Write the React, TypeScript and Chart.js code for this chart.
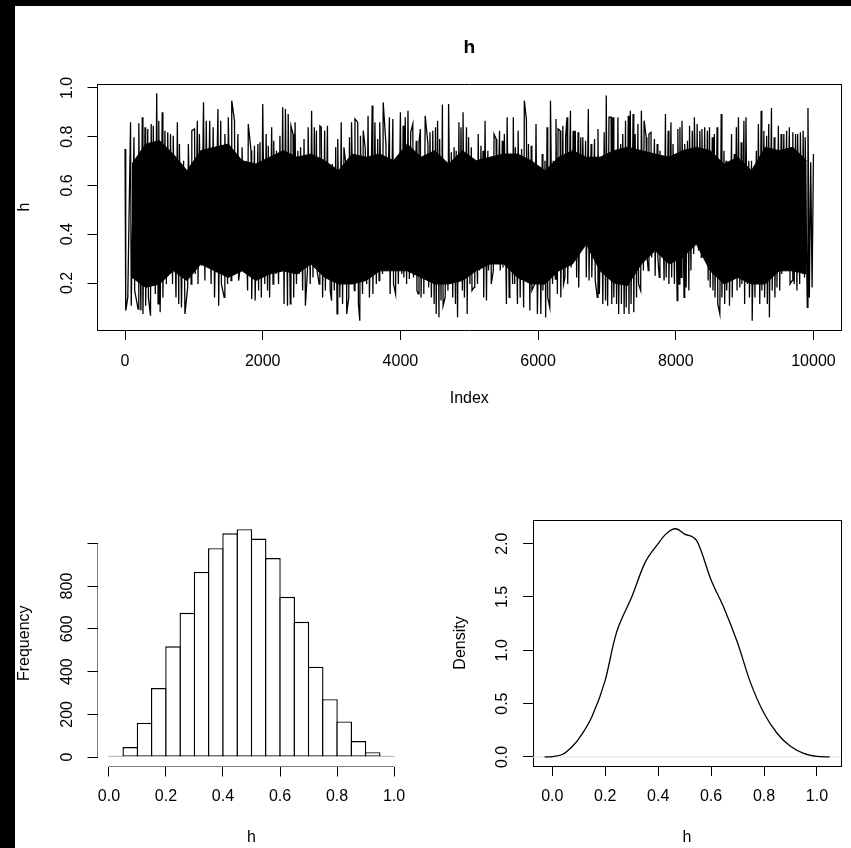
import React, { useEffect, useRef } from 'react';
import { Chart, registerables } from 'chart.js';

Chart.register(...registerables);

const FONT = '"Liberation Sans", Arial, Helvetica, sans-serif';
Chart.defaults.font.family = FONT;
Chart.defaults.font.size = 16;
Chart.defaults.color = '#000';

// ---------- Trace plot (top) ----------
const traceTitle = 'h';
const traceXLabel = 'Index';
const traceYLabel = 'h';
const traceXTicks = [0, 2000, 4000, 6000, 8000, 10000];
const traceYTicks = [0.2, 0.4, 0.6, 0.8, 1.0];
const traceXRange = [-400, 10400];
const traceYRange = [0.0072, 1.0164];
const coreBinSize = 200; // iterations per core block

// local maxima of the trace: [iteration, value]
const tracePeaks = [
  [0, 0.75], [80, 0.859], [130, 0.798], [200, 0.855], [250, 0.88], [290, 0.839], [330, 0.832], [380, 0.852], [410, 0.845], [460, 0.978],
  [490, 0.866], [540, 0.9], [580, 0.825], [620, 0.818], [660, 0.811], [700, 0.804], [760, 0.859], [790, 0.77], [850, 0.702], [920, 0.77],
  [970, 0.825], [1010, 0.832], [1050, 0.866], [1080, 0.811], [1140, 0.941], [1180, 0.866], [1230, 0.866], [1280, 0.839], [1350, 0.914], [1390, 0.866],
  [1450, 0.811], [1500, 0.88], [1550, 0.948], [1590, 0.866], [1640, 0.811], [1700, 0.757], [1740, 0.688], [1790, 0.852], [1830, 0.743], [1880, 0.763],
  [1930, 0.77], [1960, 0.777], [2000, 0.934], [2050, 0.811], [2080, 0.763], [2130, 0.839], [2160, 0.784], [2200, 0.743], [2250, 0.804], [2290, 0.921],
  [2330, 0.914], [2370, 0.893], [2410, 0.845], [2440, 0.811], [2470, 0.859], [2510, 0.743], [2550, 0.757], [2600, 0.791], [2660, 0.839], [2710, 0.907],
  [2750, 0.839], [2780, 0.825], [2830, 0.845], [2850, 0.839], [2900, 0.825], [2940, 0.845], [2970, 0.647], [3010, 0.688], [3060, 0.757], [3090, 0.791],
  [3140, 0.859], [3180, 0.757], [3210, 0.681], [3260, 0.798], [3290, 0.859], [3340, 0.873], [3380, 0.859], [3420, 0.804], [3460, 0.825], [3490, 0.75],
  [3530, 0.886], [3590, 0.928], [3630, 0.859], [3670, 0.791], [3700, 0.859], [3750, 0.941], [3790, 0.77], [3840, 0.88], [3890, 0.873], [3940, 0.702],
  [4000, 0.9], [4040, 0.845], [4070, 0.88], [4110, 0.907], [4150, 0.818], [4180, 0.852], [4230, 0.784], [4270, 0.777], [4290, 0.832], [4330, 0.716],
  [4360, 0.886], [4400, 0.77], [4430, 0.818], [4470, 0.825], [4510, 0.839], [4540, 0.866], [4570, 0.791], [4610, 0.932], [4670, 0.695], [4700, 0.934],
  [4740, 0.736], [4780, 0.757], [4810, 0.743], [4850, 0.859], [4880, 0.839], [4910, 0.9], [4960, 0.839], [4990, 0.798], [5030, 0.757], [5080, 0.647],
  [5130, 0.811], [5170, 0.763], [5200, 0.743], [5230, 0.866], [5270, 0.743], [5310, 0.702], [5360, 0.811], [5390, 0.791], [5440, 0.825], [5480, 0.784],
  [5510, 0.811], [5550, 0.88], [5590, 0.709], [5640, 0.88], [5670, 0.757], [5710, 0.825], [5760, 0.75], [5800, 0.948], [5830, 0.873], [5860, 0.77],
  [5900, 0.763], [5970, 0.852], [6020, 0.661], [6060, 0.729], [6100, 0.702], [6130, 0.839], [6180, 0.948], [6220, 0.702], [6260, 0.873], [6290, 0.832],
  [6320, 0.825], [6360, 0.845], [6400, 0.798], [6420, 0.88], [6470, 0.907], [6510, 0.825], [6540, 0.825], [6580, 0.818], [6620, 0.798], [6650, 0.798],
  [6690, 0.784], [6730, 0.914], [6770, 0.77], [6820, 0.791], [6870, 0.832], [6920, 0.675], [6960, 0.818], [6990, 0.969], [7030, 0.88], [7060, 0.88],
  [7090, 0.88], [7130, 0.64], [7160, 0.88], [7200, 0.77], [7230, 0.811], [7270, 0.866], [7310, 0.886], [7340, 0.907], [7380, 0.893], [7410, 0.811],
  [7450, 0.852], [7500, 0.907], [7540, 0.866], [7570, 0.798], [7610, 0.811], [7640, 0.818], [7690, 0.791], [7730, 0.77], [7770, 0.743], [7800, 0.688],
  [7850, 0.893], [7890, 0.825], [7930, 0.859], [7960, 0.77], [7990, 0.729], [8030, 0.832], [8060, 0.839], [8090, 0.866], [8130, 0.77], [8170, 0.784],
  [8200, 0.845], [8240, 0.825], [8270, 0.88], [8310, 0.852], [8350, 0.825], [8380, 0.832], [8420, 0.839], [8460, 0.825], [8490, 0.839], [8530, 0.798],
  [8560, 0.811], [8600, 0.839], [8660, 0.893], [8700, 0.743], [8730, 0.702], [8770, 0.675], [8810, 0.811], [8850, 0.729], [8880, 0.839], [8910, 0.88],
  [8950, 0.777], [8990, 0.866], [9020, 0.88], [9060, 0.702], [9100, 0.702], [9140, 0.634], [9170, 0.743], [9200, 0.852], [9240, 0.907], [9280, 0.825],
  [9320, 0.804], [9350, 0.852], [9390, 0.918], [9430, 0.798], [9460, 0.729], [9490, 0.845], [9530, 0.811], [9570, 0.811], [9610, 0.825], [9650, 0.839],
  [9700, 0.818], [9740, 0.811], [9770, 0.811], [9810, 0.818], [9850, 0.825], [9880, 0.798], [9920, 0.918], [9960, 0.695], [10000, 0.729],
];

// local minima of the trace: [iteration, value]
const traceTroughs = [
  [10, 0.087], [40, 0.141], [90, 0.107], [140, 0.169], [190, 0.093], [230, 0.087], [260, 0.073], [300, 0.107], [340, 0.141], [370, 0.066],
  [400, 0.196], [440, 0.155], [480, 0.114], [510, 0.08], [550, 0.141], [600, 0.196], [650, 0.237], [690, 0.196], [740, 0.141], [780, 0.114],
  [820, 0.1], [870, 0.073], [910, 0.182], [960, 0.196], [1020, 0.237], [1060, 0.196], [1110, 0.271], [1160, 0.21], [1200, 0.305], [1250, 0.196],
  [1300, 0.141], [1360, 0.107], [1400, 0.196], [1440, 0.141], [1490, 0.196], [1540, 0.21], [1600, 0.251], [1650, 0.21], [1690, 0.305], [1730, 0.251],
  [1780, 0.169], [1840, 0.134], [1890, 0.128], [1940, 0.169], [1980, 0.141], [2030, 0.196], [2070, 0.169], [2100, 0.141], [2150, 0.196], [2190, 0.237],
  [2230, 0.196], [2270, 0.298], [2310, 0.114], [2360, 0.107], [2400, 0.114], [2450, 0.141], [2490, 0.196], [2530, 0.237], [2580, 0.169], [2620, 0.107],
  [2650, 0.251], [2690, 0.196], [2730, 0.223], [2760, 0.292], [2790, 0.251], [2820, 0.196], [2870, 0.141], [2910, 0.169], [2950, 0.333], [2980, 0.169],
  [3000, 0.128], [3040, 0.169], [3080, 0.073], [3120, 0.141], [3160, 0.114], [3220, 0.073], [3250, 0.141], [3280, 0.196], [3330, 0.169], [3390, 0.114],
  [3410, 0.045], [3450, 0.155], [3510, 0.196], [3550, 0.141], [3600, 0.155], [3650, 0.196], [3690, 0.21], [3740, 0.237], [3800, 0.278], [3850, 0.155],
  [3900, 0.196], [3930, 0.155], [3970, 0.196], [4020, 0.237], [4050, 0.223], [4090, 0.196], [4130, 0.216], [4190, 0.223], [4240, 0.169], [4260, 0.155],
  [4300, 0.141], [4340, 0.155], [4410, 0.182], [4450, 0.141], [4490, 0.114], [4520, 0.073], [4560, 0.059], [4590, 0.128], [4620, 0.107], [4650, 0.141],
  [4690, 0.169], [4730, 0.196], [4760, 0.141], [4800, 0.114], [4830, 0.059], [4860, 0.237], [4900, 0.169], [4930, 0.141], [4970, 0.073], [5010, 0.196],
  [5040, 0.169], [5070, 0.182], [5120, 0.196], [5150, 0.251], [5190, 0.305], [5210, 0.141], [5250, 0.128], [5280, 0.251], [5320, 0.196], [5350, 0.251],
  [5400, 0.278], [5450, 0.251], [5490, 0.264], [5540, 0.114], [5580, 0.141], [5630, 0.196], [5660, 0.196], [5700, 0.114], [5740, 0.141], [5790, 0.1],
  [5840, 0.21], [5880, 0.087], [5910, 0.169], [5950, 0.196], [5990, 0.073], [6040, 0.073], [6070, 0.169], [6110, 0.059], [6140, 0.141], [6170, 0.1],
  [6210, 0.196], [6250, 0.216], [6280, 0.155], [6330, 0.141], [6370, 0.196], [6390, 0.223], [6430, 0.196], [6480, 0.264], [6520, 0.292], [6560, 0.223],
  [6590, 0.182], [6630, 0.374], [6670, 0.387], [6700, 0.223], [6740, 0.21], [6780, 0.223], [6830, 0.21], [6860, 0.141], [6890, 0.155], [6940, 0.114],
  [6980, 0.128], [7010, 0.107], [7070, 0.114], [7100, 0.141], [7140, 0.114], [7170, 0.073], [7210, 0.114], [7250, 0.073], [7280, 0.1], [7320, 0.073],
  [7350, 0.114], [7390, 0.08], [7430, 0.141], [7460, 0.196], [7490, 0.169], [7530, 0.251], [7580, 0.319], [7600, 0.251], [7650, 0.305], [7700, 0.23],
  [7740, 0.305], [7760, 0.223], [7790, 0.346], [7830, 0.21], [7860, 0.223], [7900, 0.196], [7940, 0.223], [7980, 0.196], [8020, 0.128], [8050, 0.196],
  [8080, 0.223], [8120, 0.141], [8150, 0.182], [8190, 0.169], [8220, 0.251], [8260, 0.319], [8300, 0.374], [8330, 0.333], [8370, 0.305], [8400, 0.387],
  [8430, 0.292], [8470, 0.21], [8500, 0.182], [8540, 0.169], [8570, 0.141], [8610, 0.114], [8640, 0.073], [8670, 0.141], [8710, 0.114], [8740, 0.169],
  [8780, 0.107], [8820, 0.141], [8860, 0.223], [8890, 0.169], [8930, 0.182], [8960, 0.196], [9000, 0.114], [9040, 0.196], [9070, 0.141], [9110, 0.045],
  [9150, 0.141], [9180, 0.196], [9220, 0.114], [9250, 0.169], [9290, 0.141], [9330, 0.114], [9360, 0.059], [9400, 0.169], [9440, 0.141], [9470, 0.182],
  [9510, 0.169], [9540, 0.237], [9580, 0.278], [9620, 0.251], [9660, 0.196], [9690, 0.21], [9720, 0.196], [9760, 0.169], [9800, 0.196], [9840, 0.237],
  [9870, 0.223], [9910, 0.1], [9940, 0.141], [9980, 0.182],
];

// dense (solid) band of the trace per block of 200 iterations
const coreHigh = [
  0.688, 0.77, 0.784, 0.729, 0.661, 0.743, 0.757, 0.77, 0.702, 0.688,
  0.716, 0.743, 0.716, 0.729, 0.702, 0.661, 0.729, 0.716, 0.729, 0.702,
  0.77, 0.716, 0.743, 0.688, 0.743, 0.702, 0.716, 0.729, 0.729, 0.702,
  0.661, 0.716, 0.743, 0.716, 0.716, 0.743, 0.757, 0.743, 0.729, 0.716,
  0.743, 0.757, 0.743, 0.688, 0.716, 0.661, 0.757, 0.743, 0.757, 0.702,
];
const coreLow = [
  0.223, 0.182, 0.196, 0.25, 0.21, 0.278, 0.25, 0.223, 0.25, 0.21,
  0.237, 0.25, 0.237, 0.278, 0.223, 0.196, 0.196, 0.21, 0.25, 0.25,
  0.25, 0.223, 0.196, 0.196, 0.21, 0.25, 0.278, 0.278, 0.223, 0.196,
  0.196, 0.25, 0.278, 0.36, 0.25, 0.2, 0.19, 0.278, 0.333, 0.278,
  0.305, 0.36, 0.25, 0.196, 0.223, 0.196, 0.196, 0.25, 0.25, 0.237,
];

// ---------- Histogram (bottom left) ----------
const histXLabel = 'h';
const histYLabel = 'Frequency';
const histBreaks = [0, 0.05, 0.1, 0.15, 0.2, 0.25, 0.3, 0.35, 0.4, 0.45, 0.5, 0.55, 0.6, 0.65, 0.7, 0.75, 0.8, 0.85, 0.9, 0.95, 1.0];
const histCounts = [3, 47, 161, 323, 518, 675, 866, 977, 1047, 1066, 1022, 931, 750, 633, 423, 271, 167, 75, 23, 2];
const histXTicks = [0, 0.2, 0.4, 0.6, 0.8, 1.0];
const histYTicks = [0, 200, 400, 600, 800, 1000];
const histYLabeled = [0, 200, 400, 600, 800];
const histXRange = [-0.04, 1.04];
const histYRange = [-44, 1109];

// ---------- Density (bottom right) ----------
const densXLabel = 'h';
const densYLabel = 'Density';
const densX = [-0.029, 0.0, 0.04, 0.076, 0.1, 0.15, 0.2, 0.236, 0.25, 0.3, 0.35, 0.4, 0.425, 0.45, 0.466, 0.5, 0.545, 0.6, 0.65, 0.7, 0.75, 0.8, 0.85, 0.9, 0.95, 1.0, 1.048];
const densY = [0, 0.003, 0.025, 0.1, 0.17, 0.38, 0.72, 1.11, 1.22, 1.5, 1.82, 2.0, 2.08, 2.13, 2.14, 2.09, 2.03, 1.66, 1.39, 1.07, 0.69, 0.41, 0.22, 0.1, 0.034, 0.006, 0];
const densXTicks = [0, 0.2, 0.4, 0.6, 0.8, 1.0];
const densYTicks = [0, 0.5, 1.0, 1.5, 2.0];
const densXRange = [-0.073, 1.091];
const densYRange = [-0.085, 2.222];

// ---------- helpers ----------
const tickFont = { family: FONT, size: 16 };
const fixedTicks = (values: number[]) => (axis: any) => {
  axis.ticks = values.map((v) => ({ value: v }));
};
const tickGrid = { display: true, drawOnChartArea: false, drawTicks: true, tickLength: 10, color: '#000', lineWidth: 1, offset: false };
const frameAxis = (position: string, range: number[]) => ({
  type: 'linear',
  position,
  min: range[0],
  max: range[1],
  display: true,
  grid: { display: false, drawTicks: false },
  ticks: { display: false },
  border: { display: true, color: '#000', width: 1 },
  afterFit: (s: any) => {
    if (position === 'top' || position === 'bottom') s.height = 0;
    else s.width = 0;
  },
});
const basePlugins = { legend: { display: false }, tooltip: { enabled: false } };

function traceConfig(): any {
  const coreX = (i: number) => i * coreBinSize + coreBinSize / 2;
  const coreLowLine = coreLow.map((v, i) => ({ x: coreX(i), y: v }));
  const coreHighLine = coreHigh.map((v, i) => ({ x: coreX(i), y: v }));
  const trace = [...tracePeaks, ...traceTroughs]
    .map(([x, y]) => ({ x, y }))
    .sort((a, b) => a.x - b.x);
  return {
    type: 'line',
    data: {
      datasets: [
        { data: coreLowLine, borderColor: '#000', borderWidth: 1, pointRadius: 0, tension: 0, fill: false, order: 3 },
        { data: coreHighLine, borderColor: '#000', borderWidth: 1, pointRadius: 0, tension: 0, fill: '-1', backgroundColor: '#000', order: 2 },
        { data: trace, borderColor: '#000', borderWidth: 1.3, pointRadius: 0, tension: 0, fill: false, order: 1 },
      ],
    },
    options: {
      animation: false,
      responsive: false,
      maintainAspectRatio: false,
      events: [],
      layout: { padding: { left: 0, right: 10, top: 0, bottom: 0 } },
      plugins: {
        ...basePlugins,
        title: {
          display: true,
          text: traceTitle,
          color: '#000',
          font: { family: FONT, size: 19.2, weight: 'bold' },
          padding: { top: 35.8, bottom: 25.16 },
          fullSize: false,
        },
      },
      scales: {
        x: {
          type: 'linear', position: 'bottom', min: traceXRange[0], max: traceXRange[1], offset: false,
          afterBuildTicks: fixedTicks(traceXTicks),
          afterFit: (s: any) => { s.height = 110; },
          grid: tickGrid,
          border: { display: true, color: '#000', width: 1 },
          ticks: { color: '#000', font: tickFont, padding: 12.4, maxRotation: 0, minRotation: 0, autoSkip: false, callback: (v: any) => String(v) },
          title: { display: true, text: traceXLabel, color: '#000', font: tickFont, padding: { top: 0, bottom: 31.9 } },
        },
        y: {
          type: 'linear', position: 'left', min: traceYRange[0], max: traceYRange[1],
          afterBuildTicks: fixedTicks(traceYTicks),
          afterFit: (s: any) => { s.width = 97.5; },
          grid: tickGrid,
          border: { display: true, color: '#000', width: 1 },
          ticks: { color: '#000', font: tickFont, padding: 8.9, minRotation: 90, maxRotation: 90, crossAlign: 'center', autoSkip: false, callback: (v: any) => Number(v).toFixed(1) },
          title: { display: true, text: traceYLabel, color: '#000', font: tickFont, padding: { top: 14.8, bottom: 0 } },
        },
        x2: frameAxis('top', traceXRange),
        y2: frameAxis('right', traceYRange),
      },
    },
  };
}

function histConfig(): any {
  const bars = histCounts.map((c, i) => ({ x: (histBreaks[i] + histBreaks[i + 1]) / 2, y: c }));
  const xAxisLine = [
    { x: histXTicks[0], y: histYRange[0] },
    { x: histXTicks[histXTicks.length - 1], y: histYRange[0] },
  ];
  const yAxisLine = [
    { x: histXRange[0], y: histYTicks[0] },
    { x: histXRange[0], y: histYTicks[histYTicks.length - 1] },
  ];
  return {
    type: 'bar',
    data: {
      datasets: [
        { type: 'bar', data: bars, backgroundColor: '#fff', borderColor: '#000', borderWidth: 1.4, borderSkipped: false, barPercentage: 1.098, categoryPercentage: 1, minBarLength: 1.4, order: 2 },
        { type: 'line', data: xAxisLine, borderColor: '#000', borderWidth: 1, pointRadius: 0, order: 1 },
        { type: 'line', data: yAxisLine, borderColor: '#000', borderWidth: 1, pointRadius: 0, order: 1 },
      ],
    },
    options: {
      animation: false,
      responsive: false,
      maintainAspectRatio: false,
      events: [],
      layout: { padding: { left: 0, right: 24.5, top: 80, bottom: 0 } },
      plugins: basePlugins,
      scales: {
        x: {
          type: 'linear', position: 'bottom', min: histXRange[0], max: histXRange[1], offset: false,
          afterBuildTicks: fixedTicks(histXTicks),
          afterFit: (s: any) => { s.height = 81.5; },
          grid: tickGrid,
          border: { display: false },
          ticks: { color: '#000', font: tickFont, padding: 10.9, maxRotation: 0, minRotation: 0, autoSkip: false, callback: (v: any) => Number(v).toFixed(1) },
          title: { display: true, text: histXLabel, color: '#000', font: tickFont, padding: { top: 0, bottom: 0.4 } },
        },
        y: {
          type: 'linear', position: 'left', min: histYRange[0], max: histYRange[1],
          afterBuildTicks: fixedTicks(histYTicks),
          afterFit: (s: any) => { s.width = 97.5; },
          grid: tickGrid,
          border: { display: false },
          ticks: {
            color: '#000', font: tickFont, padding: 6.65, minRotation: 90, maxRotation: 90, crossAlign: 'center', autoSkip: false,
            callback: (v: any) => (histYLabeled.includes(Number(v)) ? String(v) : ''),
          },
          title: { display: true, text: histYLabel, color: '#000', font: tickFont, padding: { top: 14.6, bottom: 0 } },
        },
      },
    },
  };
}

function densityConfig(): any {
  const curve = densX.map((x, i) => ({ x, y: densY[i] }));
  const zeroLine = [
    { x: densXRange[0], y: 0 },
    { x: densXRange[1], y: 0 },
  ];
  return {
    type: 'line',
    data: {
      datasets: [
        { data: zeroLine, borderColor: '#e2e2e2', borderWidth: 1, pointRadius: 0, order: 2 },
        { data: curve, borderColor: '#000', borderWidth: 1.3, pointRadius: 0, cubicInterpolationMode: 'monotone', fill: false, order: 1 },
      ],
    },
    options: {
      animation: false,
      responsive: false,
      maintainAspectRatio: false,
      events: [],
      layout: { padding: { left: 0, right: 10, top: 80, bottom: 0 } },
      plugins: basePlugins,
      scales: {
        x: {
          type: 'linear', position: 'bottom', min: densXRange[0], max: densXRange[1], offset: false,
          afterBuildTicks: fixedTicks(densXTicks),
          afterFit: (s: any) => { s.height = 82; },
          grid: tickGrid,
          border: { display: true, color: '#000', width: 1 },
          ticks: { color: '#000', font: tickFont, padding: 11.4, maxRotation: 0, minRotation: 0, autoSkip: false, callback: (v: any) => Number(v).toFixed(1) },
          title: { display: true, text: densXLabel, color: '#000', font: tickFont, padding: { top: 0, bottom: 0.4 } },
        },
        y: {
          type: 'linear', position: 'left', min: densYRange[0], max: densYRange[1],
          afterBuildTicks: fixedTicks(densYTicks),
          afterFit: (s: any) => { s.width = 103; },
          grid: tickGrid,
          border: { display: true, color: '#000', width: 1 },
          ticks: { color: '#000', font: tickFont, padding: 8.9, minRotation: 90, maxRotation: 90, crossAlign: 'center', autoSkip: false, callback: (v: any) => Number(v).toFixed(1) },
          title: { display: true, text: densYLabel, color: '#000', font: tickFont, padding: { top: 21, bottom: 0 } },
        },
        x2: frameAxis('top', densXRange),
        y2: frameAxis('right', densYRange),
      },
    },
  };
}

function ChartCanvas(props: { make: () => any; left: number; top: number; width: number; height: number }) {
  const { make, left, top, width, height } = props;
  const ref = useRef<HTMLCanvasElement>(null);
  useEffect(() => {
    if (!ref.current) return;
    const chart = new Chart(ref.current, make());
    return () => chart.destroy();
  }, []);
  return (
    <canvas
      ref={ref}
      width={width}
      height={height}
      style={{ position: 'absolute', left, top, width, height, display: 'block' }}
    />
  );
}

export default function App() {
  return (
    <div style={{ position: 'absolute', left: 0, top: 0, width: 851, height: 848, background: '#000', overflow: 'hidden' }}>
      <div style={{ position: 'absolute', left: 15, top: 6, width: 836, height: 842, background: '#fff' }} />
      <ChartCanvas make={traceConfig} left={0} top={0} width={851} height={440} />
      <ChartCanvas make={histConfig} left={0} top={440} width={430} height={408} />
      <ChartCanvas make={densityConfig} left={430} top={440} width={421} height={408} />
    </div>
  );
}
